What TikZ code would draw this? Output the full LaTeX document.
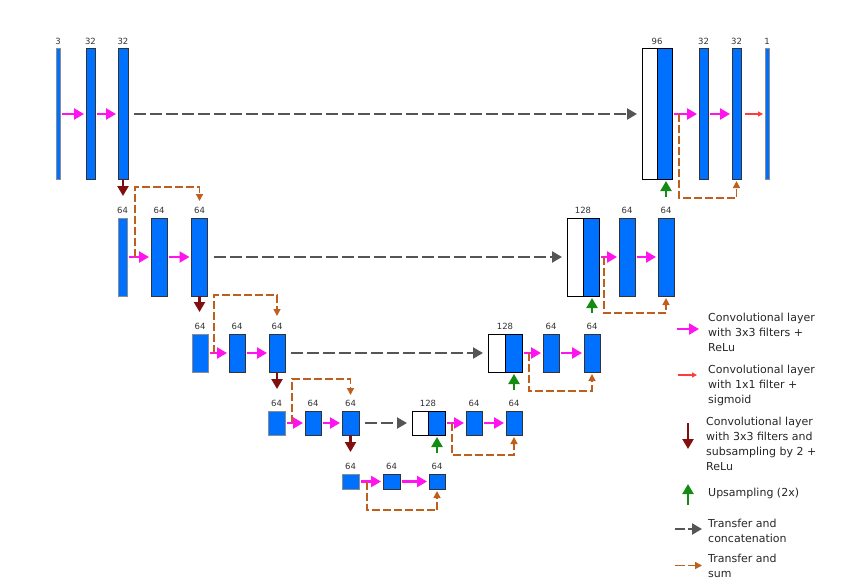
\documentclass[tikz,border=0pt]{standalone}
\usepackage{fontspec}
\setmainfont{DejaVu Sans}
\usetikzlibrary{arrows.meta,positioning}
\definecolor{layerblue}{RGB}{0,112,255}
\definecolor{convpink}{RGB}{255,20,240}
\definecolor{sigred}{RGB}{255,60,60}
\definecolor{downred}{RGB}{130,15,15}
\definecolor{upgreen}{RGB}{20,140,20}
\definecolor{catgrey}{RGB}{85,85,85}
\definecolor{sumorange}{RGB}{190,95,30}

\begin{document}
\begin{tikzpicture}[x=1pt,y=-1pt,
  lyr/.style={draw=black!80,fill=layerblue,line width=1pt,inner sep=0pt,outer sep=0pt},
  thin/.style={lyr,draw=black!45},
  open/.style={lyr,draw=black,fill=white},
  lbl/.style={font=\fontsize{8.5}{10}\selectfont,text=black!80,inner sep=1pt,label distance=3.5pt},
  h1/.style={minimum height=130pt},
  h2/.style={minimum height=78pt},
  h3/.style={minimum height=38pt},
  h4/.style={minimum height=24pt},
  h5/.style={minimum height=15pt},
  conv/.style={draw=convpink,line width=2.2pt,-{Triangle[length=10pt,width=11pt]},shorten <=2pt,shorten >=2pt},
  sig/.style={draw=sigred,line width=1.2pt,-{Triangle[length=5pt,width=5pt]},shorten <=4pt,shorten >=2pt},
  down/.style={draw=downred,line width=2.2pt,-{Triangle[length=10pt,width=11pt]},shorten >=22pt},
  up/.style={draw=upgreen,line width=2.2pt,-{Triangle[length=10pt,width=11pt]},shorten <=21pt,shorten >=2pt},
  cat/.style={draw=catgrey,line width=2.2pt,dash pattern=on 12pt off 4pt,-{Triangle[length=10pt,width=11pt]},shorten <=6pt,shorten >=5pt},
  sum/.style={draw=sumorange,line width=1.5pt,dash pattern=on 8pt off 3pt,-{Triangle[length=7pt,width=7pt]}},
  key/.style={anchor=west,align=left,inner sep=0pt,font=\fontsize{11}{15}\selectfont,text=black!85}]
\useasboundingbox (0,0) rectangle (850,588);

\node[thin,h1,minimum width=4pt,label={[lbl]above:3}] (in1) at (58,114) {};
\node[lyr,h1,minimum width=9pt,label={[lbl]above:32}] (c1a) at (90.5,114) {};
\node[lyr,h1,minimum width=10pt,label={[lbl]above:32}] (c1b) at (123,114) {};
\node[open,h1,minimum width=15pt,label={[lbl,xshift=7.5pt]above:96}] (cat1w) at (649.5,114) {};
\node[lyr,h1,draw=black,minimum width=15pt,right=0pt of cat1w] (cat1b) {};
\node[lyr,h1,minimum width=9pt,label={[lbl]above:32}] (d1a) at (703.5,114) {};
\node[lyr,h1,minimum width=9pt,label={[lbl]above:32}] (d1b) at (736.5,114) {};
\node[thin,h1,minimum width=4pt,label={[lbl]above:1}] (out1) at (767,114) {};

\node[thin,h2,minimum width=9pt,label={[lbl]above:64}] (e2a) at (122.5,257) {};
\node[lyr,h2,minimum width=16pt,label={[lbl]above:64}] (e2b) at (159,257) {};
\node[lyr,h2,minimum width=16pt,label={[lbl]above:64}] (e2c) at (199.5,257) {};
\node[open,h2,minimum width=16pt,label={[lbl,xshift=8pt]above:128}] (cat2w) at (575,257) {};
\node[lyr,h2,draw=black,minimum width=16pt,right=0pt of cat2w] (cat2b) {};
\node[lyr,h2,minimum width=16pt,label={[lbl]above:64}] (d2a) at (627,257) {};
\node[lyr,h2,minimum width=16pt,label={[lbl]above:64}] (d2b) at (666,257) {};

\node[thin,h3,minimum width=16pt,label={[lbl]above:64}] (e3a) at (200,353) {};
\node[lyr,h3,minimum width=16pt,label={[lbl]above:64}] (e3b) at (237,353) {};
\node[lyr,h3,minimum width=16pt,label={[lbl]above:64}] (e3c) at (277,353) {};
\node[open,h3,minimum width=17pt,label={[lbl,xshift=8.5pt]above:128}] (cat3w) at (496.5,353) {};
\node[lyr,h3,draw=black,minimum width=17pt,right=0pt of cat3w] (cat3b) {};
\node[lyr,h3,minimum width=16pt,label={[lbl]above:64}] (d3a) at (551,353) {};
\node[lyr,h3,minimum width=16pt,label={[lbl]above:64}] (d3b) at (592,353) {};

\node[thin,h4,minimum width=17pt,label={[lbl]above:64}] (e4a) at (276.5,423) {};
\node[lyr,h4,minimum width=16pt,label={[lbl]above:64}] (e4b) at (313,423) {};
\node[lyr,h4,minimum width=17pt,label={[lbl]above:64}] (e4c) at (350.5,423) {};
\node[open,h4,minimum width=16pt,label={[lbl,xshift=8pt]above:128}] (cat4w) at (420,423) {};
\node[lyr,h4,draw=black,minimum width=17pt,right=0pt of cat4w] (cat4b) {};
\node[lyr,h4,minimum width=16pt,label={[lbl]above:64}] (d4a) at (474,423) {};
\node[lyr,h4,minimum width=16pt,label={[lbl]above:64}] (d4b) at (514,423) {};

\node[thin,h5,minimum width=17pt,label={[lbl]above:64}] (b5a) at (350.5,481.5) {};
\node[lyr,h5,minimum width=17pt,label={[lbl]above:64}] (b5b) at (391.5,481.5) {};
\node[lyr,h5,minimum width=16pt,label={[lbl]above:64}] (b5c) at (437,481.5) {};

\foreach \a/\b in {in1/c1a,c1a/c1b,e2a/e2b,e2b/e2c,e3a/e3b,e3b/e3c,e4a/e4b,e4b/e4c,
  b5a/b5b,b5b/b5c,cat1b/d1a,d1a/d1b,cat2b/d2a,d2a/d2b,cat3b/d3a,d3a/d3b,cat4b/d4a,d4a/d4b}
  \draw[conv] (\a) -- (\b);
\draw[sig] (d1b) -- (out1);

\foreach \a/\b in {c1b/e2a,e2c/e3a,e3c/e4a,e4c/b5a}
  \draw[down] (\a.south) -- (\a.south |- \b.north);
\foreach \a/\b in {d2b/cat1b,d3b/cat2b,d4b/cat3b,b5c/cat4b}
  \draw[up] (\a.north) -- (\a.north |- \b.south);
\foreach \a/\b in {c1b/cat1w,e2c/cat2w,e3c/cat3w,e4c/cat4w}
  \draw[cat] (\a) -- (\b);

\draw[sum] ([xshift=8pt]e2a.east) |- ([yshift=31pt]e2c.north) -- ([yshift=17pt]e2c.north);
\draw[sum] ([xshift=6pt]e3a.east) |- ([yshift=39pt]e3c.north) -- ([yshift=18pt]e3c.north);
\draw[sum] ([xshift=7pt]e4a.east) |- ([yshift=32pt]e4c.north) -- ([yshift=16pt]e4c.north);
\draw[sum] ([xshift=7pt]cat1b.east) |- ([yshift=-19pt]d1b.south) -- ([yshift=-2pt]d1b.south);
\draw[sum] ([xshift=5pt]cat2b.east) |- ([yshift=-17pt]d2b.south) -- ([yshift=-2pt]d2b.south);
\draw[sum] ([xshift=7pt]cat3b.east) |- ([yshift=-19pt]d3b.south) -- ([yshift=-2pt]d3b.south);
\draw[sum] ([xshift=7pt]cat4b.east) |- ([yshift=-20pt]d4b.south) -- ([yshift=-2pt]d4b.south);
\draw[sum] ([xshift=8pt]b5a.east) |- ([yshift=-21pt]b5c.south) -- ([yshift=-2pt]b5c.south);

\node[key] (k1) at (708,332) {Convolutional layer\\with 3x3 filters +\\ReLu};
\node[key] (k2) at (708,385) {Convolutional layer\\with 1x1 filter +\\sigmoid};
\node[key] (k3) at (706,444) {Convolutional layer\\with 3x3 filters and\\subsampling by 2 +\\ReLu};
\node[key] (k4) at (708,493) {Upsampling (2x)};
\node[key] (k5) at (708,530.5) {Transfer and\\concatenation};
\node[key] (k6) at (708,565.5) {Transfer and\\sum};
\draw[conv,shorten <=0pt,shorten >=0pt] ([xshift=-31pt,yshift=3pt]k1.west) -- ([xshift=-9pt,yshift=3pt]k1.west);
\draw[sig,shorten <=0pt,shorten >=0pt] ([xshift=-30pt,yshift=10pt]k2.west) -- ([xshift=-11pt,yshift=10pt]k2.west);
\draw[down,shorten >=0pt] ([xshift=-18pt,yshift=21pt]k3.west) -- ([xshift=-18pt,yshift=-5pt]k3.west);
\draw[up,shorten <=0pt,shorten >=0pt] ([xshift=-20pt,yshift=-12pt]k4.west) -- ([xshift=-20pt,yshift=9pt]k4.west);
\draw[cat,shorten <=0pt,shorten >=0pt,dash pattern=on 10pt off 3pt] ([xshift=-33pt,yshift=1.5pt]k5.west) -- ([xshift=-6pt,yshift=1.5pt]k5.west);
\draw[sum,dash pattern=on 10pt off 3pt] ([xshift=-33pt]k6.west) -- ([xshift=-6pt]k6.west);
\end{tikzpicture}
\end{document}
